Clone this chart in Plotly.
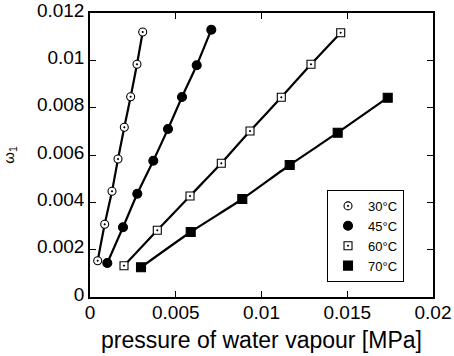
import plotly.graph_objects as go

# --- data ---
x_30 = [0.000449, 0.000857, 0.001283, 0.001633, 0.002000, 0.002370, 0.002740, 0.003073]
y_30 = [0.001534, 0.003072, 0.004466, 0.005831, 0.007170, 0.008463, 0.009832, 0.011197]

x_45 = [0.001009, 0.001924, 0.002758, 0.003691, 0.004548, 0.005364, 0.006222, 0.007073]
y_45 = [0.001437, 0.002945, 0.004365, 0.005759, 0.007100, 0.008450, 0.009790, 0.011294]

x_60 = [0.001983, 0.003924, 0.005831, 0.007656, 0.009330, 0.011155, 0.012886, 0.014618]
y_60 = [0.001323, 0.002818, 0.004268, 0.005649, 0.007014, 0.008438, 0.009832, 0.011168]

x_70 = [0.002974, 0.005872, 0.008880, 0.011644, 0.014443, 0.017360]
y_70 = [0.001255, 0.002746, 0.004141, 0.005577, 0.006942, 0.008421]

series_names = ["30°C", "45°C", "60°C", "70°C"]

x_tickvals = [0, 0.005, 0.01, 0.015, 0.02]
x_ticktext = ["0", "0.005", "0.01", "0.015", "0.02"]
y_tickvals = [0, 0.002, 0.004, 0.006, 0.008, 0.01, 0.012]
y_ticktext = ["0", "0.002", "0.004", "0.006", "0.008", "0.01", "0.012"]

FONT = "Liberation Sans, Arial, sans-serif"

styles = [
    dict(symbol="circle-dot", color="white", size=8),
    dict(symbol="circle", color="black", size=9),
    dict(symbol="square-dot", color="white", size=8),
    dict(symbol="square", color="black", size=9),
]
datasets = [(x_30, y_30), (x_45, y_45), (x_60, y_60), (x_70, y_70)]

fig = go.Figure()
# lines (no legend)
for (xs, ys), name in zip(datasets, series_names):
    fig.add_trace(go.Scatter(
        x=xs, y=ys, mode="lines", showlegend=False, hoverinfo="skip",
        line=dict(color="black", width=2.2, shape="spline", smoothing=0.6),
    ))
# markers (legend)
for (xs, ys), name, st in zip(datasets, series_names, styles):
    fig.add_trace(go.Scatter(
        x=xs, y=ys, mode="markers", name=name,
        marker=dict(symbol=st["symbol"], color=st["color"], size=st["size"],
                    line=dict(color="black", width=1.1)),
    ))

axis_common = dict(
    showgrid=False, zeroline=False, showline=True, linecolor="black", linewidth=1.5,
    mirror="ticks", ticks="inside", ticklen=6, tickwidth=1.2, tickcolor="black",
    tickfont=dict(family=FONT, size=19, color="black"), automargin=False,
    ticklabeloverflow="allow",
)

fig.update_xaxes(
    range=[0, 0.02], tickvals=x_tickvals, ticktext=x_ticktext,
    ticklabelstandoff=-3,
    title=dict(text="pressure of water vapour [MPa]", font=dict(family=FONT, size=23, color="black"), standoff=10),
    **axis_common,
)
fig.update_yaxes(
    range=[0, 0.012], tickvals=y_tickvals, ticktext=y_ticktext,
    ticklabelstandoff=0, ticklabelshift=-3,
    title=dict(text="ω<sub>1</sub>", font=dict(family=FONT, size=15, color="black"), standoff=20),
    **axis_common,
)

fig.update_layout(
    width=454, height=356,
    margin=dict(l=90, r=21, t=13, b=59),
    paper_bgcolor="white", plot_bgcolor="white",
    font=dict(family=FONT, color="black"),
    legend=dict(
        x=0.691, y=0.215, xanchor="left", yanchor="middle",
        bordercolor="black", borderwidth=1, bgcolor="white",
        font=dict(family=FONT, size=13, color="black"),
        itemsizing="trace", tracegroupgap=0,
    ),
)

# remove the default 8px page margin so the figure sits at the window's corner
fig.write_html("out.html", config={"displayModeBar": False},
               post_script="document.body.style.margin='0';")
